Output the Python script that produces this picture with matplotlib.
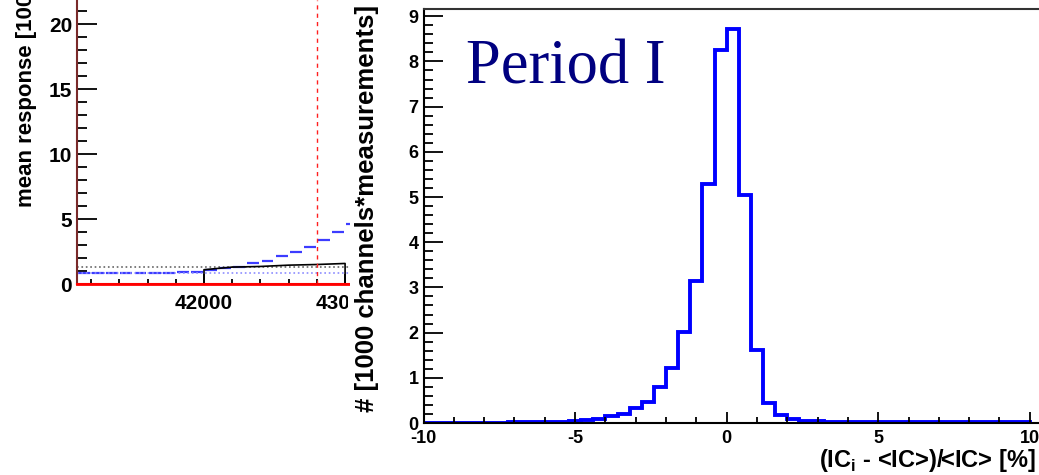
import numpy as np
import matplotlib
matplotlib.use('Agg')
import matplotlib.pyplot as plt
from matplotlib.patches import Rectangle
from matplotlib.transforms import Bbox
from matplotlib.ticker import MultipleLocator, FormatStrFormatter

plt.rcParams['font.family'] = ['Liberation Sans', 'DejaVu Sans']
plt.rcParams['font.weight'] = 'bold'
plt.rcParams['axes.unicode_minus'] = False
plt.rcParams['mathtext.fontset'] = 'custom'
plt.rcParams['mathtext.bf'] = 'Liberation Sans:bold'
plt.rcParams['mathtext.rm'] = 'Liberation Sans:bold'

# --- right panel: IC spread histogram (thousands of entries per 0.4% bin)
hist_lo, hist_hi, n_bins = -10, 10, 50
hist_vals = [0.004, 0.004, 0.004, 0.004, 0.004, 0.004, 0.004, 0.02, 0.025, 0.025,
             0.03, 0.03, 0.035, 0.06, 0.09, 0.16, 0.19, 0.34, 0.46, 0.80,
             1.21, 2.02, 3.15, 5.28, 8.25, 8.72, 5.05, 1.61, 0.45, 0.18,
             0.08, 0.05, 0.04, 0.03, 0.025, 0.025, 0.02, 0.03, 0.03, 0.03,
             0.025, 0.02, 0.02, 0.03, 0.03, 0.02, 0.02, 0.015, 0.015, 0.02]

# --- left panel (cropped): mean response vs run number
run_edges = [41100, 41200, 41300, 41400, 41500, 41600, 41700, 41800, 41900, 42000, 42100,
             42200, 42300, 42400, 42500, 42600, 42700, 42800, 42900, 43000, 43100]
blue_resp = [0.82, 0.82, 0.82, 0.83, 0.84, 0.86, 0.88, 0.95, 0.95, 1.10,
             1.20, 1.30, 1.59, 1.79, 2.13, 2.46, 2.87, 3.41, 3.97, 4.60]
black_x = [42000, 42000, 42200, 42400, 42600, 42800, 43000, 43000]
black_y = [0, 1.10, 1.30, 1.35, 1.45, 1.50, 1.58, 0]
gray_level = 1.30
blue_level = 0.87
red_run = 42800

W, H = 1039, 475
fig = plt.figure(figsize=(W / 100, H / 100), dpi=100)


def box(l, t, r, b):
    return [l / W, 1 - b / H, (r - l) / W, (b - t) / H]


# left panel
axL = fig.add_axes(box(77, 0, 350, 284))
axL.set_zorder(0)
axL.set_xlim(41100, 41100 + (350 - 77) / 0.1411)
axL.set_ylim(0, 21.85)
axL.hlines(blue_resp, np.array(run_edges[:-1]) + 8, np.array(run_edges[1:]) - 8,
           color='#3c3cff', lw=1.6)
axL.axhline(blue_level, color='#8c8cff', lw=1.2, ls=':')
axL.axhline(gray_level, color='#666666', lw=1.2, ls=':')
axL.plot(black_x, black_y, color='black', lw=1.2)
axL.axvline(red_run, color='#ff2020', lw=1.0, ls='--', dashes=(3, 3))
axL.axhline(0, color='red', lw=2.0, clip_on=False)
for s in ['top', 'right']:
    axL.spines[s].set_visible(False)
axL.spines['bottom'].set_color('red')
axL.spines['bottom'].set_linewidth(1.5)
axL.spines['left'].set_color('#7a2a2a')
axL.spines['left'].set_linewidth(1.5)
axL.yaxis.set_major_locator(MultipleLocator(5))
axL.yaxis.set_minor_locator(MultipleLocator(1))
axL.xaxis.set_major_locator(MultipleLocator(1000))
axL.xaxis.set_minor_locator(MultipleLocator(200))
axL.xaxis.set_major_formatter(FormatStrFormatter('%d'))
axL.tick_params(which='both', direction='in', labelsize=15, width=1.3)
axL.tick_params(axis='y', which='major', length=14.4, pad=3.5)
axL.tick_params(axis='y', which='minor', length=7.2)
axL.tick_params(axis='x', which='major', length=7, pad=7)
axL.tick_params(axis='x', which='minor', length=3.6)
fig.text(27 / W, 1 + 6 / H, 'mean response [100', rotation=90, ha='center', va='top',
         fontsize=16, fontweight='bold')

# white cover for the cropped edge of the left panel
fig.add_artist(Rectangle((350 / W, 0), 1, 1, transform=fig.transFigure,
                         facecolor='white', edgecolor='none', zorder=0.5))

# right panel
axR = fig.add_axes(box(423.5, 9, 1048, 423))
axR.set_zorder(1)
edges = np.linspace(hist_lo, hist_hi, n_bins + 1)
axR.stairs(hist_vals, edges, color='#0000ff', lw=2.8)
axR.set_xlim(-10, 10.6)
axR.set_ylim(0, 9.16)
axR.spines['right'].set_visible(False)
for s in ['left', 'bottom', 'top']:
    axR.spines[s].set_linewidth(1.5)
axR.spines['top'].set_color('#333333')
axR.yaxis.set_major_locator(MultipleLocator(1))
axR.yaxis.set_minor_locator(MultipleLocator(0.2))
axR.xaxis.set_major_locator(MultipleLocator(5))
axR.xaxis.set_minor_locator(MultipleLocator(1))
axR.tick_params(which='both', direction='in', labelsize=13, width=1.3)
axR.tick_params(axis='y', which='major', length=13.7, pad=3.5)
axR.tick_params(axis='y', which='minor', length=6.5)
axR.tick_params(axis='x', which='major', length=8, pad=5)
axR.tick_params(axis='x', which='minor', length=4.3)
axR.text(466 / W, 1 - 83 / H, 'Period I', transform=fig.transFigure,
         family=['Liberation Serif'], fontweight='normal', fontsize=45,
         color='#000080', ha='left', va='baseline')

fig.text(367 / W, 1 - 5 / H, '# [1000 channels*measurements]', rotation=90,
         ha='center', va='top', fontsize=18.5, fontweight='bold', zorder=3)
fig.text(1036 / W, 1 - 460 / H, r'(IC$_\mathbf{i}$ - <IC>)/<IC> [%]', ha='right',
         va='center', fontsize=17, fontweight='bold', zorder=3)

# clip the left panel's run labels where the panel is cropped
fig.canvas.draw()
for lab in axL.get_xticklabels():
    lab.set_clip_box(Bbox.from_extents(0, 0, 348, H))
    lab.set_clip_on(True)

fig.savefig('out.png', dpi=100)
